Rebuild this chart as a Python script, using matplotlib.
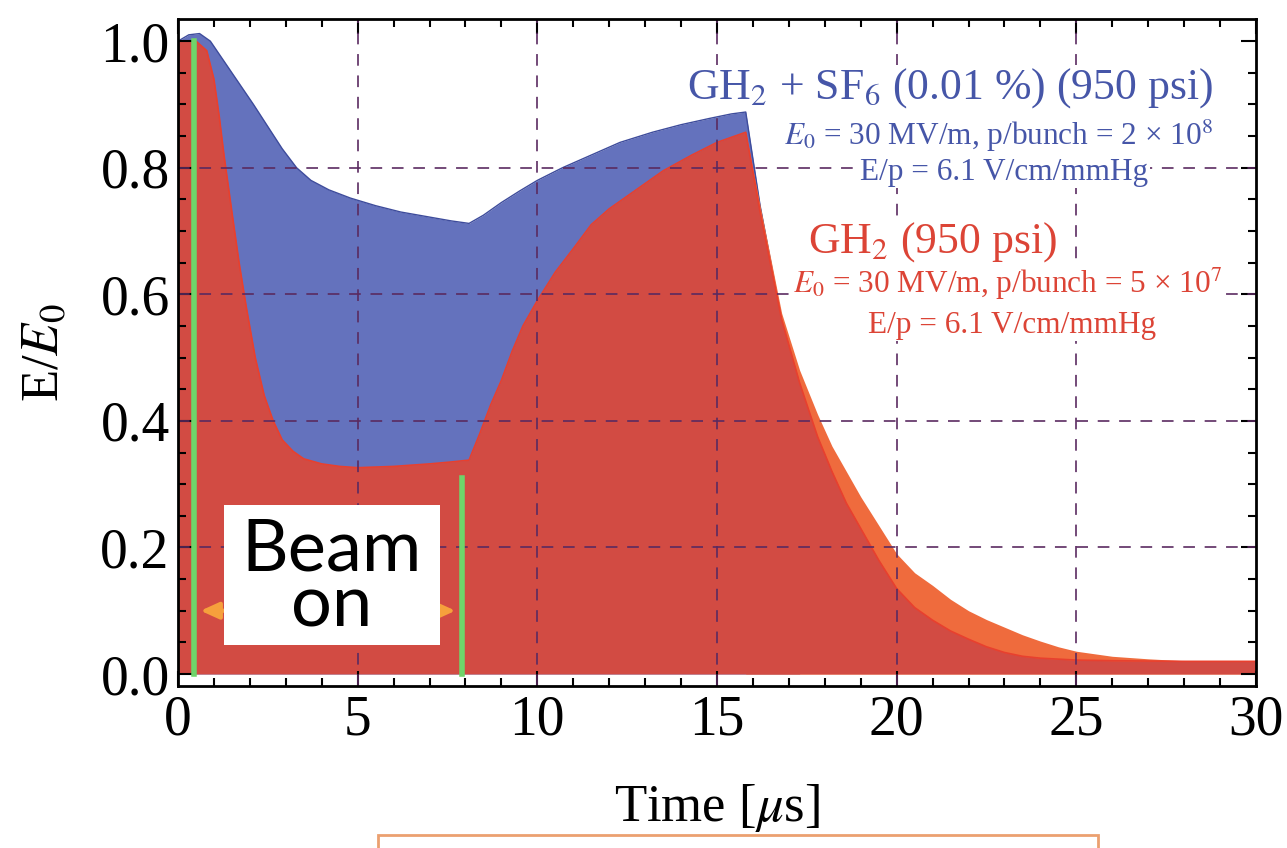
import matplotlib
matplotlib.use("Agg")
import matplotlib.pyplot as plt
from matplotlib.patches import Rectangle
from matplotlib.ticker import MultipleLocator, FormatStrFormatter

plt.rcParams["font.family"] = ["Liberation Serif", "DejaVu Serif"]
plt.rcParams["mathtext.fontset"] = "stix"

# --- data ---
# GH2 + SF6 (0.01 %) : blue
t_blue = [0, 0.3, 0.6, 0.9, 1.2, 1.5, 1.8, 2.1, 2.5, 2.9, 3.3, 3.7, 4.2, 4.8,
          5.5, 6.2, 7.0, 7.6, 8.1, 8.5, 9.0, 9.5, 10.0, 10.7, 11.5, 12.3, 13.2,
          14.0, 14.8, 15.4, 15.8, 16.2, 16.8, 17.3]
e_blue = [1.0, 1.01, 1.012, 1.0, 0.975, 0.95, 0.925, 0.9, 0.865, 0.83, 0.8,
          0.78, 0.765, 0.752, 0.74, 0.73, 0.722, 0.716, 0.712, 0.725, 0.745,
          0.763, 0.78, 0.80, 0.82, 0.84, 0.856, 0.868, 0.878, 0.885, 0.888,
          0.74, 0.56, 0.45]

# GH2 : red
t_red = [0, 0.5, 0.8, 1.0, 1.15, 1.28, 1.5, 1.7, 1.9, 2.15, 2.4, 2.65, 2.9,
         3.2, 3.5, 4.0, 4.5, 5.0, 6.0, 7.0, 7.6, 8.1, 8.4, 8.7, 9.0, 9.3, 9.6,
         10.0, 10.5, 11.0, 11.5, 12.0, 12.75, 13.5, 14.3, 15.0, 15.8, 16.2,
         16.8, 17.3, 17.8, 18.2, 18.6, 19.0, 19.5, 20.0, 20.5, 21.0, 21.5,
         22.0, 22.5, 23.0, 23.5, 24.0, 25.0, 26.0, 28.0, 30.0]
e_red = [1.0, 1.0, 0.985, 0.94, 0.88, 0.82, 0.73, 0.65, 0.58, 0.5, 0.44, 0.4,
         0.37, 0.352, 0.34, 0.332, 0.328, 0.326, 0.328, 0.332, 0.335, 0.338,
         0.38, 0.425, 0.464, 0.51, 0.55, 0.59, 0.635, 0.672, 0.71, 0.735,
         0.765, 0.795, 0.82, 0.84, 0.856, 0.73, 0.56, 0.46, 0.375, 0.32, 0.27,
         0.23, 0.18, 0.135, 0.105, 0.085, 0.068, 0.055, 0.043, 0.034, 0.028,
         0.025, 0.022, 0.021, 0.02, 0.02]

# slower decay : orange
t_orange = [15.8, 16.2, 16.8, 17.3, 17.8, 18.2, 18.6, 19.0, 19.5, 20.0, 20.5,
            21.0, 21.5, 22.0, 22.5, 23.0, 23.5, 24.0, 24.5, 25.0, 26.0, 27.0,
            28.0, 30.0]
e_orange = [0.856, 0.74, 0.57, 0.48, 0.41, 0.36, 0.32, 0.28, 0.235, 0.19, 0.16,
            0.14, 0.118, 0.10, 0.086, 0.074, 0.062, 0.052, 0.043, 0.036, 0.028,
            0.024, 0.021, 0.02]

beam_start, beam_end = 0.45, 7.9
beam_top = 0.31
grid_x = [5, 10, 15, 20, 25]
grid_y = [0.2, 0.4, 0.6, 0.8]

fig = plt.figure(figsize=(12.87, 8.48), dpi=100)
ax = fig.add_axes([0.1383, 0.1910, 0.8376, 0.7866])

ax.fill_between(t_blue, e_blue, color="#6472bd", lw=0, zorder=1)
ax.plot(t_blue, e_blue, color="#3e4c9c", lw=1.0, zorder=1.1)
ax.fill_between(t_orange, e_orange, color="#ef6b3d", lw=0, zorder=1.2)
ax.fill_between(t_red, e_red, color="#d24b43", lw=0, zorder=1.3)
ax.plot(t_red, e_red, color="#e8402e", lw=1.2, zorder=1.4)

# dashed grid
for gx in grid_x:
    ax.axvline(gx, color="#5a2a60", lw=1.4, ls=(0, (6, 5)), alpha=0.85, zorder=2)
for gy in grid_y:
    ax.axhline(gy, color="#5a2a60", lw=1.4, ls=(0, (6, 5)), alpha=0.85, zorder=2)

# beam on markers
ax.plot([beam_start, beam_start], [0, 1.0], color="#6fd46a", lw=4, zorder=3)
ax.plot([beam_end, beam_end], [0, beam_top], color="#6fd46a", lw=4, zorder=3)
ax.annotate("", xy=(beam_start + 0.1, 0.10), xytext=(beam_end - 0.1, 0.10),
            arrowprops=dict(arrowstyle="<|-|>,head_length=1.1,head_width=0.5",
                            color="#f6a03c", lw=3), zorder=3)
ax.add_patch(Rectangle((1.28, 0.046), 6.0, 0.221, fc="white", ec="none", zorder=4))
ax.text(4.28, 0.152, "Beam\non", family=["Lato", "DejaVu Sans"], fontsize=52,
        ha="center", va="center", linespacing=0.82, zorder=5)

# annotations
bb = dict(fc="white", ec="none", pad=1)
blue_c = "#4656a8"
red_c = "#dc4436"
ax.text(21.5, 0.926, r"GH$_2$ + SF$_6$ (0.01 %) (950 psi)", color=blue_c,
        fontsize=31.5, ha="center", va="center", zorder=6, bbox=bb)
ax.text(28.8, 0.85, r"$E_0$ = 30 MV/m, p/bunch = 2 × 10$^8$", color=blue_c,
        fontsize=22.5, ha="right", va="center", zorder=6, bbox=bb)
ax.text(23.0, 0.793, "E/p = 6.1 V/cm/mmHg", color=blue_c,
        fontsize=22.5, ha="center", va="center", zorder=6, bbox=bb)
ax.text(21.0, 0.683, r"GH$_2$ (950 psi)", color=red_c,
        fontsize=31.5, ha="center", va="center", zorder=6, bbox=bb)
ax.text(23.1, 0.616, r"$E_0$ = 30 MV/m, p/bunch = 5 × 10$^7$", color=red_c,
        fontsize=22.5, ha="center", va="center", zorder=6, bbox=bb)
ax.text(23.2, 0.551, "E/p = 6.1 V/cm/mmHg", color=red_c,
        fontsize=22.5, ha="center", va="center", zorder=6, bbox=bb)

ax.set_xlim(0, 30)
ax.set_ylim(-0.019, 1.035)
ax.xaxis.set_major_locator(MultipleLocator(5))
ax.xaxis.set_minor_locator(MultipleLocator(1))
ax.yaxis.set_major_locator(MultipleLocator(0.2))
ax.yaxis.set_minor_locator(MultipleLocator(0.05))
ax.yaxis.set_major_formatter(FormatStrFormatter("%.1f"))
ax.tick_params(which="both", direction="in", top=True, right=True,
               labelsize=40, width=1.5, pad=6)
ax.tick_params(which="major", length=11)
ax.tick_params(which="minor", length=6)
for s in ax.spines.values():
    s.set_linewidth(2)
    s.set_zorder(7)

ax.set_xlabel(r"Time [$\mu$s]", fontsize=38, labelpad=26)
ax.set_ylabel(r"E/$E_0$", fontsize=38, labelpad=22)

# partly visible box under the axis label
fig.patches.append(Rectangle((0.2937, -0.05), 0.5594, 0.0653, transform=fig.transFigure,
                             fc="white", ec="#eba070", lw=2))

fig.savefig("out.png", dpi=100)
